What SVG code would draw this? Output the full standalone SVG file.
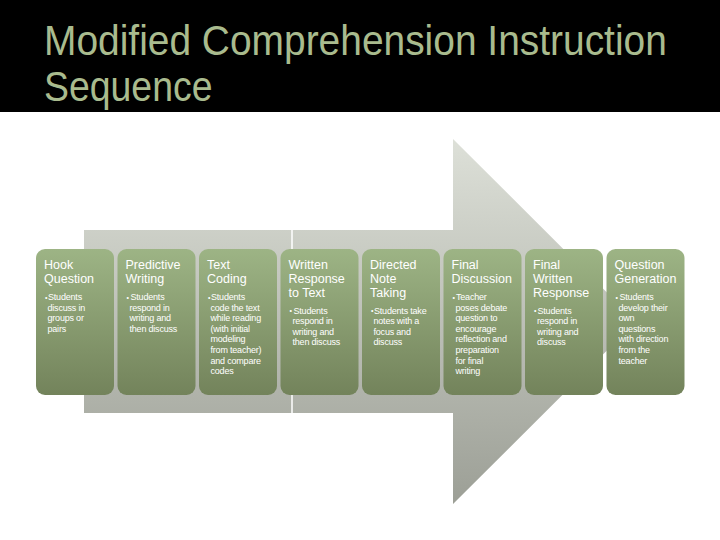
<svg xmlns="http://www.w3.org/2000/svg" width="720" height="540" viewBox="0 0 720 540">
  <defs>
    <linearGradient id="arrowGrad" gradientUnits="userSpaceOnUse" x1="0" y1="139" x2="0" y2="504">
      <stop offset="0" stop-color="#dde0d8"/>
      <stop offset="1" stop-color="#9c9f96"/>
    </linearGradient>
    <linearGradient id="boxGrad" x1="0" y1="0" x2="0" y2="1">
      <stop offset="0" stop-color="#9db485"/>
      <stop offset="1" stop-color="#73835b"/>
    </linearGradient>
    <style>
      .box { fill: url(#boxGrad); }
      .ttl { font-family: "Liberation Sans", Arial, sans-serif; font-size: 12.5px; fill: #ffffff; }
      .body { font-family: "Liberation Sans", Arial, sans-serif; font-size: 9px; fill: #ffffff; letter-spacing: -0.2px; }
      .bul { font-family: "Liberation Sans", Arial, sans-serif; font-size: 7px; fill: #ffffff; }
      .head { font-family: "Liberation Sans", Arial, sans-serif; font-size: 43px; fill: #a9bb8e; }
    </style>
  </defs>

  <rect x="0" y="0" width="720" height="540" fill="#ffffff"/>
  <rect x="0" y="0" width="720" height="112" fill="#000000"/>

  <g id="title">
    <text class="head" transform="translate(44 55) scale(0.905 1)" x="0" y="0">Modified Comprehension Instruction</text>
    <text class="head" transform="translate(44 101) scale(0.87 1)" x="0" y="0">Sequence</text>
  </g>

  <g id="arrow">
    <polygon points="84,230 453,230 453,139 636,321.5 453,504 453,413 84,413" fill="url(#arrowGrad)"/>
    <line x1="292" y1="230" x2="292" y2="413" stroke="#ffffff" stroke-width="1.5"/>
  </g>

  <g id="connectors"></g>

  <g id="node-hook">
    <rect class="box" x="36" y="249" width="78" height="146" rx="9"/>
    <text class="ttl" x="44" y="269">Hook</text>
    <text class="ttl" x="44" y="282.8">Question</text>
    <text class="bul" x="45" y="299.5">•</text>
    <text class="body" x="48" y="300">Students</text>
    <text class="body" x="47.5" y="310.6">discuss in</text>
    <text class="body" x="47.5" y="321.2">groups or</text>
    <text class="body" x="47.5" y="331.8">pairs</text>
  </g>

  <g id="node-predictive">
    <rect class="box" x="117.5" y="249" width="78" height="146" rx="9"/>
    <text class="ttl" x="125.5" y="269">Predictive</text>
    <text class="ttl" x="125.5" y="282.8">Writing</text>
    <text class="bul" x="126.5" y="299.5">•</text>
    <text class="body" x="130.5" y="300">Students</text>
    <text class="body" x="129.5" y="310.6">respond in</text>
    <text class="body" x="129.5" y="321.2">writing and</text>
    <text class="body" x="129.5" y="331.8">then discuss</text>
  </g>

  <g id="node-text-coding">
    <rect class="box" x="199" y="249" width="78" height="146" rx="9"/>
    <text class="ttl" x="207" y="269">Text</text>
    <text class="ttl" x="207" y="282.8">Coding</text>
    <text class="bul" x="208" y="299.5">•</text>
    <text class="body" x="211" y="300">Students</text>
    <text class="body" x="210.5" y="310.6">code the text</text>
    <text class="body" x="210.5" y="321.2">while reading</text>
    <text class="body" x="210.5" y="331.8">(with initial</text>
    <text class="body" x="210.5" y="342.4">modeling</text>
    <text class="body" x="210.5" y="353">from teacher)</text>
    <text class="body" x="210.5" y="363.6">and compare</text>
    <text class="body" x="210.5" y="374.2">codes</text>
  </g>

  <g id="node-written-response">
    <rect class="box" x="280.5" y="249" width="78" height="146" rx="9"/>
    <text class="ttl" x="288.5" y="269">Written</text>
    <text class="ttl" x="288.5" y="282.8">Response</text>
    <text class="ttl" x="288.5" y="296.6">to Text</text>
    <text class="bul" x="289.5" y="313">•</text>
    <text class="body" x="293.5" y="313.5">Students</text>
    <text class="body" x="292.5" y="324.1">respond in</text>
    <text class="body" x="292.5" y="334.7">writing and</text>
    <text class="body" x="292.5" y="345.3">then discuss</text>
  </g>

  <g id="node-directed-note">
    <rect class="box" x="362" y="249" width="78" height="146" rx="9"/>
    <text class="ttl" x="370" y="269">Directed</text>
    <text class="ttl" x="370" y="282.8">Note</text>
    <text class="ttl" x="370" y="296.6">Taking</text>
    <text class="bul" x="371" y="313">•</text>
    <text class="body" x="374" y="313.5">Students take</text>
    <text class="body" x="373.5" y="324.1">notes with a</text>
    <text class="body" x="373.5" y="334.7">focus and</text>
    <text class="body" x="373.5" y="345.3">discuss</text>
  </g>

  <g id="node-final-discussion">
    <rect class="box" x="443.5" y="249" width="78" height="146" rx="9"/>
    <text class="ttl" x="451.5" y="269">Final</text>
    <text class="ttl" x="451.5" y="282.8">Discussion</text>
    <text class="bul" x="452.5" y="299.5">•</text>
    <text class="body" x="456" y="300">Teacher</text>
    <text class="body" x="455.5" y="310.6">poses debate</text>
    <text class="body" x="455.5" y="321.2">question to</text>
    <text class="body" x="455.5" y="331.8">encourage</text>
    <text class="body" x="455.5" y="342.4">reflection and</text>
    <text class="body" x="455.5" y="353">preparation</text>
    <text class="body" x="455.5" y="363.6">for final</text>
    <text class="body" x="455.5" y="374.2">writing</text>
  </g>

  <g id="node-final-written">
    <rect class="box" x="525" y="249" width="78" height="146" rx="9"/>
    <text class="ttl" x="533" y="269">Final</text>
    <text class="ttl" x="533" y="282.8">Written</text>
    <text class="ttl" x="533" y="296.6">Response</text>
    <text class="bul" x="534" y="313">•</text>
    <text class="body" x="537.5" y="313.5">Students</text>
    <text class="body" x="537" y="324.1">respond in</text>
    <text class="body" x="537" y="334.7">writing and</text>
    <text class="body" x="537" y="345.3">discuss</text>
  </g>

  <g id="node-question-generation">
    <rect class="box" x="606.5" y="249" width="78" height="146" rx="9"/>
    <text class="ttl" x="614.5" y="269">Question</text>
    <text class="ttl" x="614.5" y="282.8">Generation</text>
    <text class="bul" x="615.5" y="299.5">•</text>
    <text class="body" x="619.5" y="300">Students</text>
    <text class="body" x="618.5" y="310.6">develop their</text>
    <text class="body" x="618.5" y="321.2">own</text>
    <text class="body" x="618.5" y="331.8">questions</text>
    <text class="body" x="618.5" y="342.4">with direction</text>
    <text class="body" x="618.5" y="353">from the</text>
    <text class="body" x="618.5" y="363.6">teacher</text>
  </g>
</svg>
